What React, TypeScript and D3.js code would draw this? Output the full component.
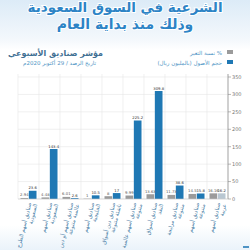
import React from "react";
import * as d3 from "d3";

const categories: string[][] = [
  ["صناديق أسهم الطرح", "السعودية"],
  ["صناديق أسهم", "السعودية"],
  ["صناديق أسهم أو دين", "عالمية متنوعة"],
  ["صناديق أسهم", "الخليجية"],
  ["صناديق دين أسواق", "ناشئة متنوعة"],
  ["صناديق أسهم عالمية", "متنوعة"],
  ["صناديق أسواق", "النقد"],
  ["صناديق مرابحة", "متنوعة"],
  ["صناديق أسهم", "متنوعة"],
  ["صناديق أسهم", "عربية"],
];
const changePct = [2.94, 4.48, 6.01, 1, 8, 9.99, 13.63, 11.73, 14.5, 16.16];
const assets = [23.6, 143.4, 2.6, 10.5, 17, 225.2, 309.8, 38.6, 15.8, 16.2];
const yTicks = [0, 50, 100, 150, 200, 250, 300, 350];
const seriesNames = ["نسبة التغير %", "حجم الأصول (بالمليون ريال)"];

const FONT = "'DejaVu Sans', sans-serif";

export default function App() {
  const W = 250, H = 250;
  const left = 18, right = 228, top = 77, bottom = 199;
  const x = d3.scaleBand<number>().domain(d3.range(categories.length)).range([left, right]).padding(0);
  const sub = d3.scaleBand<string>().domain(["g", "b"]).range([0, x.bandwidth()]).paddingInner(0.08).paddingOuter(0.3);
  const y = d3.scaleLinear().domain([0, 350]).range([bottom, top]);
  const bounds = d3.range(categories.length + 1).map((i) => left + i * x.step());
  const fmt = (v: number) => String(v);

  return (
    <svg width={W} height={H} style={{ position: "absolute", left: 0, top: 0, display: "block" }}>
      <defs>
        <linearGradient id="bg" x1="0" y1="0" x2="0" y2="1">
          <stop offset="0" stopColor="#dcebf7" />
          <stop offset="0.16" stopColor="#f4f8fc" />
          <stop offset="0.2" stopColor="#ffffff" />
          <stop offset="0.9" stopColor="#ffffff" />
          <stop offset="1" stopColor="#eaf3fa" />
        </linearGradient>
      </defs>
      <rect x={0} y={0} width={W} height={H} fill="url(#bg)" />
      {/* header */}
      <g fontFamily={FONT} fontWeight="bold" fill="#2d84c6" textAnchor="middle" stroke="#ffffff" strokeWidth={2} paintOrder="stroke">
        <text x={125} y={12} fontSize={13.5}>الشرعية في السوق السعودية</text>
        <text x={125} y={29} fontSize={14}>وذلك منذ بداية العام</text>
      </g>
      {/* chart titles */}
      <text x={103} y={56} fontFamily={FONT} fontSize={8} fontWeight="bold" fill="#3f6f93" textAnchor="end">مؤشر صناديق الأسبوعي</text>
      <text x={96} y={65} fontFamily={FONT} fontSize={5.5} fill="#4d93c4" textAnchor="end">تاريخ الرصد / 29 أكتوبر 2020م</text>
      {/* legend */}
      {seriesNames.map((s, i) => (
        <g key={s}>
          <rect x={227} y={50 + i * 10} width={6} height={4} fill={i === 0 ? "#9b9b9b" : "#1f78b4"} />
          <text x={222} y={54.5 + i * 10} fontFamily={FONT} fontSize={5.5} fill="#4d93c4" textAnchor="end">{s}</text>
        </g>
      ))}
      {/* grid */}
      {yTicks.map((t) => (
        <line key={"h" + t} x1={left} x2={right} y1={y(t)} y2={y(t)} stroke="#e6e6e6" strokeWidth={0.6} />
      ))}
      {bounds.map((bx, i) => (
        <line key={"v" + i} x1={bx} x2={bx} y1={74} y2={bottom} stroke="#e6e6e6" strokeWidth={0.6} />
      ))}
      {/* bars */}
      {categories.map((_, i) => {
        const x0 = x(i)!;
        const gx = x0 + sub("g")!;
        const bx = x0 + sub("b")!;
        const bw = sub.bandwidth();
        return (
          <g key={"c" + i}>
            <rect x={gx} y={y(changePct[i])} width={bw} height={bottom - y(changePct[i])} fill="#9b9b9b" />
            <rect x={bx} y={y(assets[i])} width={bw} height={bottom - y(assets[i])} fill={i === 9 ? "#b9c7d2" : "#1f78b4"} />
            <text x={gx + bw / 2} y={y(changePct[i]) - 1.5} fontSize={3.8} fontFamily={FONT} fill="#555" textAnchor="middle">{fmt(changePct[i])}</text>
            <text x={bx + bw / 2} y={y(assets[i]) - 1.5} fontSize={3.8} fontFamily={FONT} fill="#333" textAnchor="middle">{fmt(assets[i])}</text>
          </g>
        );
      })}
      {/* right axis */}
      <line x1={right} x2={right} y1={74} y2={bottom} stroke="#888" strokeWidth={0.7} />
      <line x1={left} x2={right} y1={bottom} y2={bottom} stroke="#cccccc" strokeWidth={0.6} />
      {yTicks.map((t) => (
        <g key={"t" + t}>
          <line x1={right} x2={right + 3} y1={y(t)} y2={y(t)} stroke="#888" strokeWidth={0.6} />
          <text x={right + 4} y={y(t) + 1.8} fontSize={5} fontFamily={FONT} fill="#777">{t}</text>
        </g>
      ))}
      {/* x labels */}
      {categories.map((lines, i) => {
        const cx = x(i)! + x.bandwidth() / 2 + 3;
        return (
          <g key={"l" + i} transform={`translate(${cx},${203}) rotate(-76)`}>
            {lines.map((ln, j) => (
              <text key={j} x={0} y={j * 6} fontSize={5.5} fontFamily={FONT} fill="#4a7ea6" textAnchor="end">{ln}</text>
            ))}
          </g>
        );
      })}
      <rect x={243} y={246} width={6} height={2} fill="#4d93c4" />
    </svg>
  );
}
